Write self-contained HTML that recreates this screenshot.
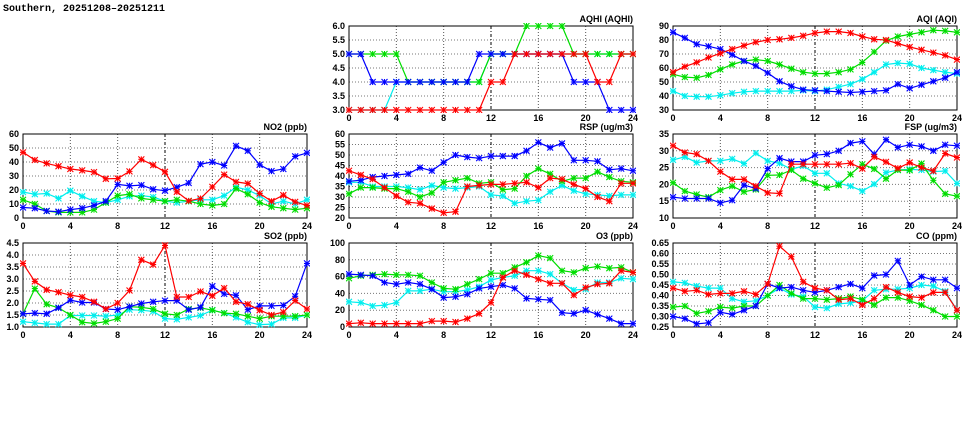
<!DOCTYPE html>
<html><head><meta charset="utf-8"><style>
body{margin:0;background:#fff;width:975px;height:447px;overflow:hidden}
svg{display:block}
text{font-family:"Liberation Sans","DejaVu Sans",sans-serif;font-weight:bold;font-size:9px;fill:#000}
</style></head><body>
<svg id="chart" width="975" height="447" viewBox="0 0 975 447">
<text x="3" y="11" style="font-size:10px;font-family:'Liberation Mono',monospace">Southern, 20251208–20251211</text>
</svg>
<script>
const hours=[0,1,2,3,4,5,6,7,8,9,10,11,12,13,14,15,16,17,18,19,20,21,22,23,24];
const xTicks=[0,4,8,12,16,20,24];
const seriesColors=["#ff0000","#00dd00","#0000ff","#00eeee"];

const aqhiRed=[3,3,3,3,3,3,3,3,3,3,3,3,4,4,5,5,5,5,5,5,5,4,4,5,5];
const aqhiGreen=[5,5,5,5,5,4,4,4,4,4,4,4,5,5,5,6,6,6,6,5,5,5,5,5,5];
const aqhiBlue=[5,5,4,4,4,4,4,4,4,4,4,5,5,5,5,5,5,5,5,4,4,4,3,3,3];
const aqhiCyan=[3,3,3,3,4,4,4,4,4,4,4,4,5,5,5,5,5,5,5,5,5,5,5,5,5];

const aqiRed=[57,61,64,67.5,70.5,73.5,76,78.5,80,80.5,81.5,83,85,86,86,85,82.5,80.5,80,77.5,75,73,71,69,66];
const aqiGreen=[55.5,53.5,53,55,59,62.5,65,66,65,62.5,59.5,57,56,56,57,59,64,71.5,79.5,82.5,84,85.5,87,86.5,85.5];
const aqiBlue=[85.5,81.5,77,75.5,73.5,69.5,65,61.5,56.5,50.5,47,44.5,44,43.5,43,42.5,43,43.5,44,48.5,45.5,48,50.5,53,57];
const aqiCyan=[43.5,40,39.5,39.5,40.5,42,43,43.5,43.5,43.5,43.5,44,43.5,44.5,46.5,48.5,52,57,62.5,63.5,63,60,58.5,57,56];

const no2Red=[46.9,41.4,39,37,35,34,32.8,28,28.2,33.3,41.9,37.8,33,18.7,12.2,13.9,22.2,31,25.8,24.6,17.5,12,16.3,11.5,9];
const no2Green=[13,10,5,4,4,4,6,11,16,17,14,13,12,13,12,10,9,10,21,17,11,8,7,6,7];
const no2Blue=[7.5,7,5,4.5,6,7,9,12,24,23,23.5,20.5,19.5,22,25,38.5,40,37.5,51.5,48,38,33.5,35,44,46.5];
const no2Cyan=[18.5,17,17.5,14,19.5,15.5,12,11,13,15.5,16,15,12,11,12,13,13,16,22,20,16,10,12,10,13];

const rspRed=[42.5,40.5,38.5,34.5,30.5,27.5,27,24.5,22.5,23,35,35.5,36,36,36.5,37,34.5,39,38.5,36,34,30,28,36.5,36.5];
const rspGreen=[31.5,34.5,34.5,34,34,32.5,30,32,37,38,39,36.5,37,33.5,34,40,43.5,41,37.5,39,39,42,39.5,37.5,37];
const rspBlue=[37.5,38,39.5,40,40.5,41,44,42.5,46.5,50,49,48.5,49.5,49.5,49.5,52,56,53.5,55.5,47.5,47.5,47,43,43.5,42.5];
const rspCyan=[37,37,35,35,35,34.5,33.5,35.5,34.5,34,34.5,35,31,30.5,27,28,28.5,32.5,35.5,33,31.5,31,30.5,31,31];

const fspRed=[31.5,29.5,29,27,23.8,21.5,21.5,19.5,17.5,17.3,26,26,26,26,26,26.3,24.7,28.2,26.7,24.8,26.5,25,24,29.2,28];
const fspGreen=[20.5,18,17,16.2,18.3,19.5,17.8,18.5,22.7,22.8,24.3,21.7,20.3,19,19.8,23,26,24.6,21.7,24.3,24.2,26.2,21.2,17.2,16.5];
const fspBlue=[16.2,15.8,15.8,15.8,14.5,15.3,19.8,18.8,24.7,27.8,26.8,26.8,28.7,29,30,32.3,32.8,29,33.3,31,31.8,31.3,30,31.8,31.5];
const fspCyan=[27.3,28.2,26.5,27,27,27.6,26.2,29.3,27,26.3,24.5,25.5,23.3,23.3,20.3,19.5,18,20.1,23.5,24.3,24.5,24.3,23.8,24,20.3];

const so2Red=[3.65,2.9,2.55,2.45,2.33,2.25,2.05,1.75,2.0,2.52,3.8,3.6,4.4,2.25,2.25,2.48,2.3,2.62,2.05,1.95,1.7,1.5,1.62,2.1,1.75];
const so2Green=[1.55,2.6,1.95,1.8,1.5,1.2,1.15,1.22,1.35,1.85,1.82,1.75,1.55,1.5,1.75,1.8,1.7,1.58,1.55,1.45,1.35,1.45,1.45,1.45,1.5];
const so2Blue=[1.55,1.58,1.55,1.8,2.12,2.02,2.02,1.75,1.72,1.85,1.98,2.05,2.1,2.1,1.72,1.82,2.7,2.38,2.32,1.72,1.88,1.88,1.9,2.28,3.65];
const so2Cyan=[1.22,1.17,1.12,1.12,1.48,1.48,1.48,1.45,1.5,1.72,1.7,1.65,1.35,1.32,1.4,1.48,1.7,1.58,1.4,1.2,1.1,1.12,1.38,1.38,1.5];

const o3Red=[4,5,4,4,4,4,4,7,7,6,10,16,29,59,67,62,57,52,52,38,47,51,52,67,65];
const o3Green=[58,61,62,63,62,62,61,53,46,45,51,57,64,64,71,77,85,82,67,65,70,72,70,71,65];
const o3Blue=[63,62,61,53,51,53,51,45,35,36,39,46,48,50,46,34,33,32,17,16,20,15,10,4,4];
const o3Cyan=[30,29,25,26,29,43,43,45,42,42,44,48,56,59,61,67,67,63,52,44,45,53,53,58,57];

const coRed=[.435,.42,.425,.405,.41,.41,.42,.405,.455,.635,.585,.465,.435,.425,.38,.385,.355,.385,.44,.415,.395,.39,.415,.415,.33];
const coGreen=[.345,.35,.315,.325,.345,.34,.35,.35,.4,.45,.41,.385,.385,.38,.385,.395,.38,.355,.39,.39,.375,.355,.33,.30,.30];
const coBlue=[.30,.29,.265,.27,.32,.31,.33,.35,.455,.435,.44,.425,.415,.425,.44,.455,.435,.495,.50,.565,.45,.49,.475,.475,.435];
const coCyan=[.465,.46,.445,.435,.435,.385,.37,.375,.40,.435,.405,.395,.345,.34,.36,.365,.375,.425,.43,.43,.435,.45,.445,.42,.33];

const panels=[
 {name:"aqhi",title:"AQHI (AQHI)",x:349,y:26,min:3,max:6,step:0.5,dec:1,s:[aqhiRed,aqhiGreen,aqhiBlue,aqhiCyan]},
 {name:"aqi",title:"AQI (AQI)",x:673,y:26,min:30,max:90,step:10,dec:0,s:[aqiRed,aqiGreen,aqiBlue,aqiCyan]},
 {name:"no2",title:"NO2 (ppb)",x:23,y:134,min:0,max:60,step:10,dec:0,s:[no2Red,no2Green,no2Blue,no2Cyan]},
 {name:"rsp",title:"RSP (ug/m3)",x:349,y:134,min:20,max:60,step:5,dec:0,s:[rspRed,rspGreen,rspBlue,rspCyan]},
 {name:"fsp",title:"FSP (ug/m3)",x:673,y:134,min:10,max:35,step:5,dec:0,s:[fspRed,fspGreen,fspBlue,fspCyan]},
 {name:"so2",title:"SO2 (ppb)",x:23,y:243,min:1,max:4.5,step:0.5,dec:1,s:[so2Red,so2Green,so2Blue,so2Cyan]},
 {name:"o3",title:"O3 (ppb)",x:349,y:243,min:0,max:100,step:20,dec:0,s:[o3Red,o3Green,o3Blue,o3Cyan]},
 {name:"co",title:"CO (ppm)",x:673,y:243,min:0.25,max:0.65,step:0.05,dec:2,s:[coRed,coGreen,coBlue,coCyan]}
];
const W=284,H=84;
const drawOrder=[3,1,2,0];
const svg=document.getElementById('chart');
const NS="http://www.w3.org/2000/svg";
function mk(tag,attrs,parent){const e=document.createElementNS(NS,tag);for(const k in attrs)e.setAttribute(k,attrs[k]);parent.appendChild(e);return e;}
const colorNames=["red","green","blue","cyan"];
panels.forEach(p=>{
 const g=mk('g',{},svg);
 
 
 const xs=h=>p.x+h/24*W;
 const ys=v=>p.y+H-(v-p.min)/(p.max-p.min)*H;
 const n=Math.round((p.max-p.min)/p.step);
 for(let i=0;i<=n;i++){
  const v=p.min+i*p.step,y=ys(v);
  if(i>0&&i<n){const l=mk('line',{x1:p.x,x2:p.x+W,y1:y,y2:y,stroke:'#777','stroke-width':1,'stroke-dasharray':'1,2'},g);
   }
  const t=mk('text',{x:p.x-4,y:y+3,'text-anchor':'end'},g);t.textContent=v.toFixed(p.dec);
  
 }
 xTicks.forEach(h=>{
  const x=xs(h);
  if(h>0&&h<24){const l=mk('line',{x1:x,x2:x,y1:p.y,y2:p.y+H,stroke:h==12?'#000':'#555','stroke-width':1,'stroke-dasharray':h==12?'3,2,1,2':'1,2'},g);
   }
  const t=mk('text',{x:x,y:p.y+H+11,'text-anchor':'middle'},g);t.textContent=h;
  
 });
 const fr=mk('rect',{x:p.x,y:p.y,width:W,height:H,fill:'none',stroke:'#000','stroke-width':1},g);
 
 const tt=mk('text',{x:p.x+W,y:p.y-4,'text-anchor':'end'},g);tt.textContent=p.title;
 
 const cp=mk('clipPath',{id:'c-'+p.name},svg);
 mk('rect',{x:p.x-3,y:p.y-3,width:W+6,height:H+6},cp);
 const cg=mk('g',{'clip-path':'url(#c-'+p.name+')'},g);
 drawOrder.forEach(si=>{
  const arr=p.s[si];
  const c=seriesColors[si];
  const pts=arr.map((v,i)=>xs(hours[i]).toFixed(1)+','+ys(v).toFixed(1)).join(' ');
  const pl=mk('polyline',{points:pts,fill:'none',stroke:c,'stroke-width':1.2},cg);
  
  
  arr.forEach((v,i)=>{
   const x=xs(hours[i]),y=ys(v),r=3;
   const m=mk('path',{d:`M${x-r},${y}H${x+r}M${x},${y-r}V${y+r}M${x-r},${y-r}L${x+r},${y+r}M${x-r},${y+r}L${x+r},${y-r}`,stroke:c,'stroke-width':1.1,fill:'none'},cg);
   
   
  });
 });
});
</script>
</body></html>
